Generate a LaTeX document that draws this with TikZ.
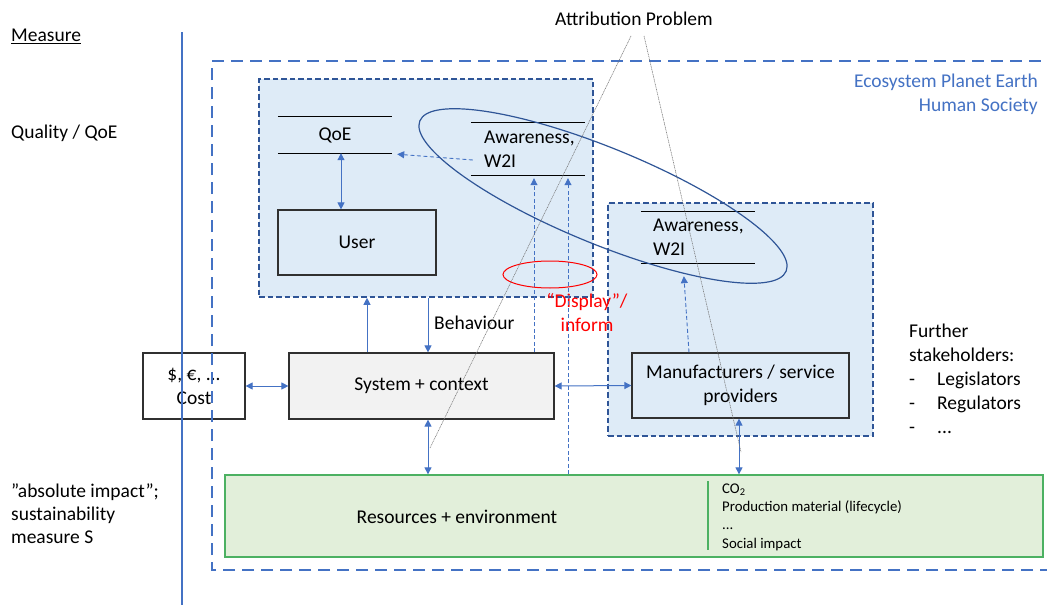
\documentclass[tikz,border=0pt]{standalone}
\usepackage{fontspec}
\setmainfont{Carlito}
\usetikzlibrary{arrows.meta}
\definecolor{accent}{HTML}{4472C4}
\definecolor{darkblue}{HTML}{2F5597}
\definecolor{lightblue}{HTML}{DEEBF7}
\definecolor{boxgray}{HTML}{F2F2F2}
\definecolor{greenfill}{HTML}{E2EFDA}
\definecolor{greenline}{HTML}{4CB162}
\definecolor{edgegray}{HTML}{303030}
\definecolor{redc}{HTML}{FF0000}
\begin{document}
\begin{tikzpicture}[x=1pt,y=-1pt,
  every node/.style={font=\fontsize{19.5}{24}\selectfont, inner sep=0pt},
  txt/.style={align=left},
  group/.style={draw=darkblue, fill=lightblue, line width=1.6pt, dash pattern=on 5.5pt off 3pt},
  outerbox/.style={draw=accent, line width=1.8pt, dash pattern=on 12pt off 7pt},
  plainbox/.style={draw=edgegray, line width=1.2pt},
  measline/.style={draw=black, line width=1pt},
  arr/.style={draw=accent, line width=1pt, -{Triangle[length=7pt,width=7pt]}},
  darr/.style={draw=accent, line width=1pt, {Triangle[length=7pt,width=7pt]}-{Triangle[length=7pt,width=7pt]}},
  dasharr/.style={draw=accent, line width=0.9pt, dash pattern=on 4pt off 2.5pt, -{Triangle[length=7pt,width=7pt]}},
  attrline/.style={draw=black!55, line width=0.55pt, dash pattern=on 1pt off 0.7pt},
  smalltxt/.style={font=\fontsize{14.8}{18.3}\selectfont, align=left}
]
\useasboundingbox (0,0) rectangle (1047,605);
\fill[white] (0,0) rectangle (1047,605);

% cost box (behind lines)
\node[plainbox, fill=white, minimum width=102pt, minimum height=66pt, align=center] (cost) at (194,386) {\$, €, ...\\Cost};

% axis line and ecosystem frame
\draw[accent, line width=1.2pt] (182,32) -- (182,606);
\draw[outerbox] (212,61) -- (1052,61);
\draw[outerbox] (1052,570) -- (212,570) -- (212,61);

% left labels
\node[anchor=west] (measure) at (11,36) {\underline{Measure}};
\node[anchor=west] (quality) at (11,133) {Quality / QoE};
\node[anchor=west, txt, font=\fontsize{19.5}{23}\selectfont] (absimp) at (11,514) {”absolute impact”;\\sustainability\\measure S};

\node[anchor=east, align=right, text=accent] (eco) at (1038,94) {Ecosystem Planet Earth\\Human Society};
\node (attr) at (634,19) {Attribution Problem};

% user group
\node[group, minimum width=334pt, minimum height=218pt] (ugrp) at (426,188) {};
\node[minimum width=114pt, minimum height=36pt] (qoe) at (335,135) {QoE};
\draw[measline] (qoe.north west) -- (qoe.north east);
\draw[measline] (qoe.south west) -- (qoe.south east);
\node[plainbox, fill=lightblue, minimum width=158pt, minimum height=65pt] (user) at (357,242.5) {User};
\node[minimum width=114pt, minimum height=52pt, text width=88pt, txt] (aw1) at (528,149) {Awareness,\\W2I};
\draw[measline] (aw1.north west) -- (aw1.north east);
\draw[measline] (aw1.south west) -- (aw1.south east);

% manufacturer group
\node[group, minimum width=265pt, minimum height=233pt] (mgrp) at (740.5,319.5) {};
\node[minimum width=114pt, minimum height=51pt, text width=90pt, txt] (aw2) at (698,237.5) {Awareness,\\W2I};
\draw[measline] (aw2.north west) -- (aw2.north east);
\draw[measline] (aw2.south west) -- (aw2.south east);
\node[plainbox, fill=lightblue, minimum width=217pt, minimum height=65pt, align=center] (manu) at (740.5,385.5) {Manufacturers / service\\providers};

% system
\node[plainbox, fill=boxgray, minimum width=265pt, minimum height=66pt] (sys) at (421.5,386) {System + context};

% resources
\node[draw=greenline, fill=greenfill, line width=1.3pt, minimum width=818pt, minimum height=82pt] (res) at (634,516) {};
\node (restext) at (457,517) {Resources + environment};
\draw[greenline, line width=1.2pt] (708,481) -- (708,550);
\node[anchor=west, smalltxt] (reslist) at (722,517) {CO\textsubscript{2}\\Production material (lifecycle)\\...\\Social impact};

% further stakeholders
\node[anchor=west, txt] (further) at (909,379) {Further\\stakeholders:\\\makebox[28pt][l]{-}Legislators\\\makebox[28pt][l]{-}Regulators\\\makebox[28pt][l]{-}...};

\node[anchor=west] (behav) at (434,323) {Behaviour};
\node[text=redc, align=center] (display) at (587,313) {“Display”/\\inform};

% coordinates for vertical connectors
\coordinate (cq) at (341,0);
\coordinate (u1) at (367,0);
\coordinate (b1) at (428,0);
\coordinate (d1) at (534,0);
\coordinate (d2) at (568,0);
\coordinate (m1) at (689,0);
\coordinate (m2) at (683,0);
\coordinate (r1) at (739,0);

% connectors
\draw[darr] (cq |- qoe.south) -- (cq |- user.north);
\draw[dasharr] ([xshift=2pt,yshift=-11pt]aw1.west) -- ([xshift=5pt,yshift=-1pt]qoe.south east);
\draw[dasharr, shorten >=3pt] (d1 |- sys.north) -- (d1 |- aw1.south);
\draw[dasharr, shorten >=3pt] (d2 |- res.north) -- (d2 |- aw1.south);
\draw[dasharr, shorten >=13pt] (m1 |- manu.north) -- (m2 |- aw2.south);
\draw[darr] (cost.east) -- (sys.west);
\draw[darr] (sys.east) -- (manu.west);
\draw[arr] (u1 |- sys.north) -- (u1 |- ugrp.south);
\draw[arr] (b1 |- ugrp.south) -- (b1 |- sys.north);
\draw[darr] (b1 |- sys.south) -- (b1 |- res.north);
\draw[darr] (r1 |- manu.south) -- (r1 |- res.north);

% ellipses
\draw[darkblue, line width=1.2pt, rotate around={-22.3:(603,196)}] (603,196) ellipse [x radius=198pt, y radius=48pt];
\draw[redc, line width=1pt] (550,274.5) ellipse [x radius=47pt, y radius=13.5pt];

% attribution lines
\coordinate (a1) at (631,36);
\coordinate (a2) at (644,36);
\coordinate (ae1) at (430,448);
\coordinate (ae2) at (741,452);
\draw[attrline] (a1) -- (ae1);
\draw[attrline] (a2) -- (ae2);
\end{tikzpicture}
\end{document}
